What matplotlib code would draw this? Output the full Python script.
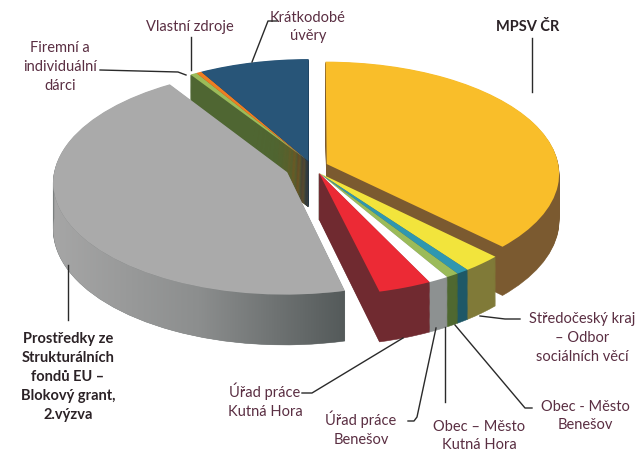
import numpy as np
import matplotlib.pyplot as plt
from matplotlib.colors import LinearSegmentedColormap
from matplotlib.patches import Polygon
from matplotlib.transforms import Transform

plt.rcParams['font.family'] = ['Lato', 'DejaVu Sans']

# data (shares in %, clockwise from 12 o'clock)
labels = ['MPSV ČR',
          'Středočeský kraj\n– Odbor\nsociálních věcí',
          'Obec - Město\nBenešov',
          'Obec – Město\nKutná Hora',
          'Úřad práce\nBenešov',
          'Úřad práce\nKutná Hora',
          'Prostředky ze\nStrukturálních\nfondů EU –\nBlokový grant,\n2.výzva',
          'Firemní a\nindividuální\ndárci',
          'Vlastní zdroje',
          'Krátkodobé\núvěry']
shares = [37.4, 2.5, 0.8, 0.8, 1.3, 3.4, 44.6, 0.5, 0.4, 8.3]

top_colors = ['#f9be2a', '#f2e43c', '#2f97b0', '#9bbb59', '#ffffff',
              '#ec2a35', '#aaaaaa', '#9bbb59', '#ef7d22', '#285578']
side_colors = ['#7b5a30', '#807a38', '#1e5867', '#4f6830', '#8d9191',
               '#702a30', '#7c8080', '#4f6632', '#9a4c12', '#18344e']

# slices that are pulled out together
groups = [[0], [1, 2, 3, 4, 5], [6], [7, 8, 9]]
explode = [16, 14, 27, 13]

# view of the tilted pie (pixels)
R = 232
K = 0.48          # tilt squash
D = 2800          # perspective distance
depth = 46
X0, Y0 = 312, 167


class Tilt(Transform):
    """pie plane (u, w) at height z -> figure pixels (x, -y)"""
    input_dims = output_dims = 2
    is_separable = False
    has_inverse = False

    def __init__(self, z):
        super().__init__()
        self.z = z

    def transform_non_affine(self, values):
        v = np.asarray(values, float)
        s = D / (D + v[:, 1])
        return np.column_stack([X0 + v[:, 0] * s,
                                -(Y0 - v[:, 1] * K * s + self.z * s)])


def proj(u, w, z):
    return Tilt(z).transform(np.column_stack([u, w]))


fig = plt.figure(figsize=(6.43, 4.55), dpi=100)
ax = fig.add_axes([0, 0, 1, 1])

fr = np.array(shares) / 100.0
cum = np.concatenate([[0], np.cumsum(fr)])
centers = []
for g, ex in zip(groups, explode):
    start = 90 - 360 * cum[g[0]]
    span = 360 * fr[g].sum()
    mid = np.radians(start - span / 2)
    centers.append((start, ex * np.cos(mid), ex * np.sin(mid)))

nlay = 46
for k in range(nlay + 1):
    z = depth * (1 - k / nlay)
    is_top = k == nlay
    tr = Tilt(z) + ax.transData
    for g, (start, gx, gy) in zip(groups, centers):
        cols = [(top_colors if is_top else side_colors)[i] for i in g]
        wedges, _ = ax.pie(fr[g], startangle=start, counterclock=False,
                           normalize=False, radius=R, center=(gx, gy),
                           colors=cols, labeldistance=None,
                           wedgeprops=dict(linewidth=0 if is_top else 0.4,
                                           zorder=3 if is_top else 1,
                                           transform=tr))
        if not is_top:
            for w in wedges:
                w.set_edgecolor(w.get_facecolor())

# shaded outer wall of the grey slice
start, gx, gy = centers[2]
th = np.radians(np.linspace(180, start + 360, 80))
top_arc = proj(gx + R * np.cos(th), gy + R * np.sin(th), 0)
bot_arc = proj(gx + R * np.cos(th[::-1]), gy + R * np.sin(th[::-1]), depth)
pts = np.vstack([top_arc, bot_arc])
wall = Polygon(pts, closed=True, facecolor='none', edgecolor='none')
ax.add_patch(wall)
grad = LinearSegmentedColormap.from_list('g', ['#a6a6a6', '#8c8e8e', '#545a5a'])
img = ax.imshow(np.linspace(0, 1, 256)[None, :], cmap=grad, aspect='auto',
                extent=(pts[:, 0].min(), pts[:, 0].max(),
                        pts[:, 1].min(), pts[:, 1].max()), zorder=2)
img.set_clip_path(wall)

# labels and leader lines (pixel positions)
txt = '#5a2e42'
lc = '#2a2a2a'
lab_pos = [(528, 27), (582, 338), (585, 416), (479, 436), (361, 429),
           (265, 401), (68, 377), (60, 67), (190, 27), (308, 27)]
bold = [True, False, False, False, False, False, True, False, False, False]
leaders = [
    [(532, 38), (532, 92)],
    [(480, 316), (505, 319), (520, 319)],
    [(455, 325), (525, 408), (532, 408)],
    [(445, 327), (445, 402)],
    [(408, 421), (414, 421), (417, 417), (436, 328)],
    [(302, 393), (312, 393), (403, 338)],
    [(68, 265), (68, 320)],
    [(100, 70), (178, 72), (186, 75)],
    [(191, 37), (191, 70)],
    [(277, 21), (268, 21), (252, 62)],
]

for lab, (x, y), b, pts in zip(labels, lab_pos, bold, leaders):
    ax.text(x, -y, lab, ha='center', va='center', fontsize=10.5,
            linespacing=1.45, color='#2b2226' if b else txt,
            fontweight='bold' if b else 'normal', zorder=5)
    ax.plot([p[0] for p in pts], [-p[1] for p in pts], color=lc, lw=1, zorder=5)

ax.set_aspect('auto')
ax.set_xlim(0, 643)
ax.set_ylim(-455, 0)
ax.axis('off')

fig.savefig('out.png', dpi=100, facecolor='white')
